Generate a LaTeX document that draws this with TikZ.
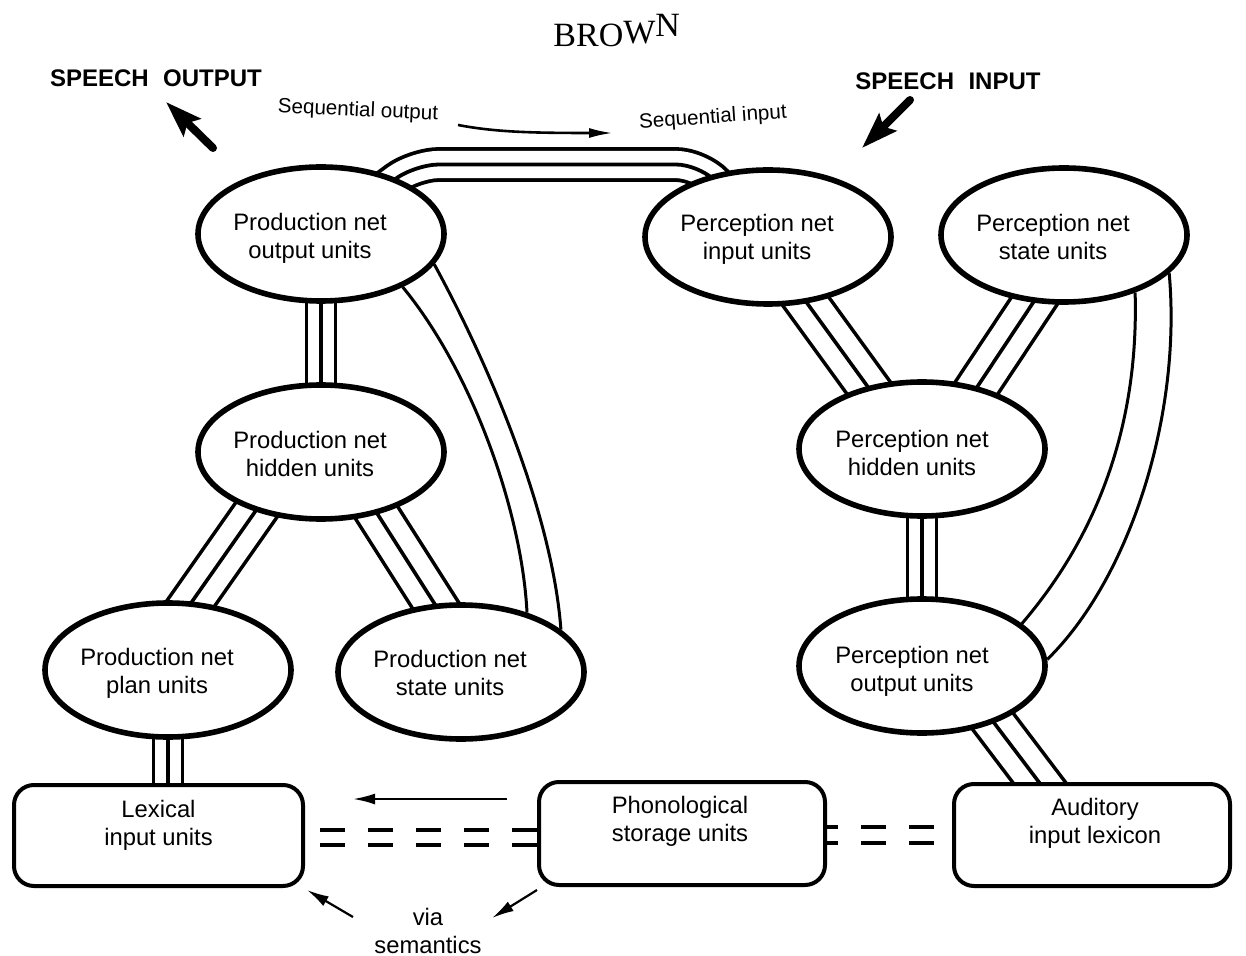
\documentclass[tikz,border=0pt]{standalone}
\usepackage{fontspec}
\setmainfont{Liberation Sans}
\newfontfamily\titlefont{Liberation Serif}
\usetikzlibrary{arrows.meta,backgrounds,shapes.geometric}
\begin{document}
\begin{tikzpicture}[x=0.5pt,y=-0.5pt,
  unitnode/.style={ellipse, draw, line width=2.8pt, fill=white,
    minimum width=123pt, minimum height=67pt, inner sep=0pt},
  storebox/.style={draw, line width=2pt, rounded corners=10pt, fill=white, inner sep=0pt},
  lab/.style={align=center, font=\fontsize{11.9}{14}\selectfont, inner sep=0pt},
  vtri/.style={draw=black, line width=16.3pt,
    postaction={draw=white, line width=12.7pt},
    postaction={draw=black, line width=1.8pt}},
  dtri/.style={draw=black, line width=22.8pt,
    postaction={draw=white, line width=19.2pt},
    postaction={draw=black, line width=1.8pt}},
  band/.style={draw=black, line width=17.4pt, rounded corners=12pt,
    postaction={draw=white, line width=13.6pt},
    postaction={draw=black, line width=1.9pt}},
  dbl/.style={draw, line width=1.5pt},
  dashln/.style={draw, line width=2pt, dash pattern=on 12.5pt off 11.5pt},
  smallarrow/.style={draw, line width=1.1pt, -{Latex[length=11pt,width=5.5pt]}},
  bigarrow/.style={draw, line width=4pt, line cap=round, -{Stealth[length=18pt,width=12pt,inset=3pt]}},
]
\useasboundingbox (0,0) rectangle (1246,956);
\begin{pgfonlayer}{background}
\fill[white] (0,0) rectangle (1246,956);
\end{pgfonlayer}

% ---------- units (ellipses) ----------
\node[unitnode, label={[lab, xshift=-5.5pt, yshift=-2pt]center:Production net\\output units}] (po) at (321,234) {};
\node[unitnode, label={[lab, xshift=-5.5pt, yshift=-1pt]center:Perception net\\input units}] (pi) at (768,237) {};
\node[unitnode, label={[lab, xshift=-5.5pt, yshift=-1.2pt]center:Perception net\\state units}] (ps) at (1064,235) {};
\node[unitnode, label={[lab, xshift=-5.5pt, yshift=-1pt]center:Production net\\hidden units}] (ph) at (321,452) {};
\node[unitnode, label={[lab, xshift=-5pt, yshift=-2pt]center:Perception net\\hidden units}] (qh) at (922,449) {};
\node[unitnode, label={[lab, xshift=-5.5pt, yshift=-1.7pt]center:Production net\\plan units}] (pl) at (168,670) {};
\node[unitnode, label={[lab, xshift=-5.5pt, yshift=-0.7pt]center:Production net\\state units}] (pst) at (461,672) {};
\node[unitnode, label={[lab, xshift=-5pt, yshift=-2.5pt]center:Perception net\\output units}] (qo) at (922,666) {};

% ---------- stores (rounded boxes) ----------
\node[storebox, minimum width=144.5pt, minimum height=50.5pt,
  label={[lab, yshift=5pt]center:Lexical\\input units}] (lex) at (158.5,835.5) {};
\node[storebox, minimum width=143pt, minimum height=51.5pt,
  label={[lab, xshift=-1pt, yshift=6pt]center:Phonological\\storage units}] (phon) at (682,833.5) {};
\node[storebox, minimum width=138pt, minimum height=51pt,
  label={[lab, xshift=1.5pt, yshift=5.8pt]center:Auditory\\input lexicon}] (aud) at (1092,835) {};

% ---------- texts ----------
\node[font=\titlefont\fontsize{17}{20}\selectfont, anchor=base west, inner sep=0pt] (title) at (553,47)
  {BRO\raisebox{1.8pt}{W}\raisebox{5pt}{N}};
\node[font=\bfseries\fontsize{12}{14}\selectfont, inner sep=0pt] (sout) at (156,78.5) {SPEECH\hspace{0.6em}OUTPUT};
\node[font=\bfseries\fontsize{12}{14}\selectfont, inner sep=0pt] (sin) at (948,81.5) {SPEECH\hspace{0.6em}INPUT};
\node[font=\fontsize{10.3}{12}\selectfont, inner sep=0pt, rotate=-2.5] (sqo) at (358,111) {Sequential output};
\node[font=\fontsize{10.3}{12}\selectfont, inner sep=0pt, rotate=4] (sqi) at (713,118) {Sequential input};
\node[lab] (via) at (428,931) {via\\semantics};

% ---------- connectors ----------
\begin{pgfonlayer}{background}
\draw[band] (po.center) -- (415,164.5) -- (700,164.5) -- (pi.center);
\draw[vtri] (po.center) -- (ph.center);
\draw[dtri] ([xshift=-12pt]ph.center) -- ([xshift=-12pt]pl.center);
\draw[dtri] ([xshift=8.5pt]ph.center) -- ([xshift=8.5pt]pst.center);
\draw[dtri] ([xshift=-4.5pt]pi.center) -- ([xshift=-4.5pt]qh.center);
\draw[dtri] ([xshift=7pt]ps.center) -- ([xshift=7pt]qh.center);
\draw[vtri] (qh.center) -- (qo.center);
\draw[dtri] ([xshift=14.5pt]qo.center) -- ([xshift=-6.5pt]aud.center);
\draw[vtri] (pl.center) -- (pl.center |- lex.center);

\draw[dbl] (po.-33.7) .. controls +(70,85) and +(-5,-100) .. (pst.42.8);
\draw[dbl] (po.-15.5) .. controls +(60,110) and +(-8,-110) .. (pst.23.4);
\draw[dbl] (ps.-39.9) .. controls +(4,138) and +(72,-84) .. (qo.23.7);
\draw[dbl] (ps.-20.6) .. controls +(13,146) and +(80,-78) .. (qo.3.6);

\draw[dashln] (phon.west |- 0,830) -- (lex.east |- 0,830);
\draw[dashln] (phon.west |- 0,845) -- (lex.east |- 0,845);
\draw[dashln, dash phase=7pt] (phon.east |- 0,827) -- (aud.west |- 0,827);
\draw[dashln, dash phase=7pt] (phon.east |- 0,843) -- (aud.west |- 0,843);
\end{pgfonlayer}

% ---------- arrows ----------
\coordinate (soT) at (213,148); \coordinate (soH) at (166,102);
\draw[bigarrow] (soT) -- (soH);
\coordinate (siT) at (910,100); \coordinate (siH) at (862,148);
\draw[bigarrow] (siT) -- (siH);
\coordinate (sqT) at (458,125); \coordinate (sqH) at (613,133);
\draw[line width=1.3pt, -{Latex[length=12pt,width=5pt]}] (sqT) .. controls (495,132) and (530,133) .. (sqH);
\coordinate (paT) at (507,799); \coordinate (paH) at (353,799);
\draw[smallarrow] (paT) -- (paH);
\coordinate (v1T) at (353,917); \coordinate (v1H) at (307,890);
\draw[smallarrow] (v1T) -- (v1H);
\coordinate (v2T) at (537,890); \coordinate (v2H) at (492,918);
\draw[smallarrow] (v2T) -- (v2H);
\end{tikzpicture}
\end{document}
